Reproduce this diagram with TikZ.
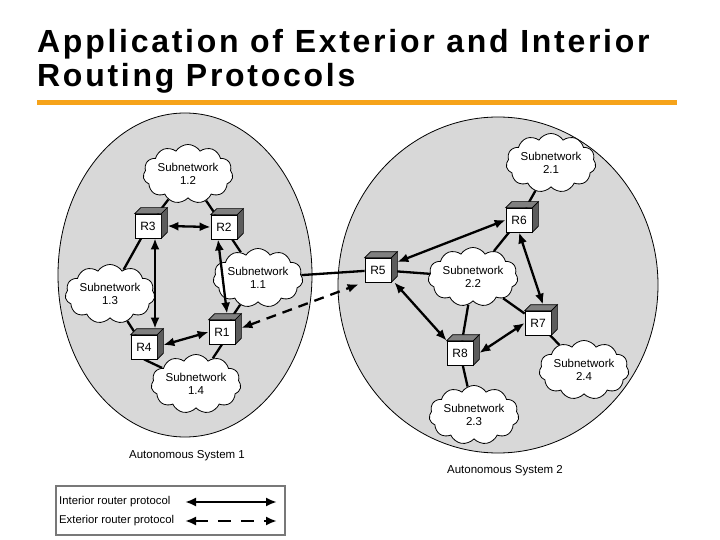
\documentclass[tikz,border=0pt]{standalone}
\usepackage{fontspec}
\setmainfont{Liberation Sans}
\newfontfamily\titlefont{Liberation Sans}[LetterSpace=8.5]
\usetikzlibrary{shapes.symbols,arrows.meta,calc}
\definecolor{asgray}{RGB}{216,216,216}
\definecolor{titleorange}{RGB}{246,163,26}
\definecolor{facetop}{RGB}{128,128,128}
\definecolor{faceside}{RGB}{92,92,92}
\definecolor{legendframe}{RGB}{120,120,120}
\pgfdeclarelayer{back}
\pgfdeclarelayer{lines}
\pgfsetlayers{back,lines,main}
\tikzset{
  asys/.style={draw=black, line width=0.8pt, fill=asgray},
  subnet/.style={cloud, cloud puffs=11, cloud puff arc=115, aspect=1.8, draw=black,
    line width=0.8pt, fill=white, inner sep=0pt, minimum width=82pt, minimum height=44pt,
    align=center, font=\fontsize{11.5}{12.5}\selectfont},
  router/.style={draw=black, line width=0.7pt, fill=white, minimum width=26pt,
    minimum height=24pt, inner sep=0pt, font=\fontsize{12}{12}\selectfont},
  face/.style={draw=black, line width=0.7pt},
  link/.style={line width=2.3pt},
  irp/.style={line width=2.3pt, {Latex[length=11pt,width=9pt]}-{Latex[length=11pt,width=9pt]}},
  erp/.style={irp, dash pattern=on 10pt off 7pt},
  smalltext/.style={font=\fontsize{11.5}{13}\selectfont, inner sep=0pt},
  legendtext/.style={font=\fontsize{11.3}{13}\selectfont, inner sep=0pt},
  titletext/.style={font=\titlefont\bfseries\fontsize{32}{34}\selectfont, inner sep=0pt, anchor=base west},
  legendbox/.style={draw=legendframe, line width=1.3pt, minimum width=229pt, minimum height=49pt, inner sep=0pt},
}
\newcommand\routercube[3]{%
  \node[router] (#1) at (#2) {#3};
  \filldraw[face, fill=facetop] (#1.north west) -- ++(6,-6) -- ([shift={(6,-6)}]#1.north east) -- (#1.north east) -- cycle;
  \filldraw[face, fill=faceside] (#1.north east) -- ++(6,-6) -- ([shift={(6,-6)}]#1.south east) -- (#1.south east) -- cycle;
}
\begin{document}
\begin{tikzpicture}[x=1pt, y=-1pt]
\useasboundingbox (0,0) rectangle (720,540);
% title
\node[titletext] (title1) at (37,53) {Application of Exterior and Interior};
\node[titletext] (title2) at (37,87) {Routing Protocols};
\fill[titleorange] (37,100) rectangle (677,105);

% autonomous systems
\begin{pgfonlayer}{back}
  \filldraw[asys] (185,275) ellipse [x radius=127, y radius=162];
  \filldraw[asys] (498,285) ellipse [x radius=160, y radius=168];
\end{pgfonlayer}
\node[smalltext] (as1) at (187,456) {Autonomous System 1};
\node[smalltext] (as2) at (505,471) {Autonomous System 2};

% subnetworks
\node[subnet] (c12) at (188,174) {Subnetwork\\1.2};
\node[subnet] (c11) at (258,278) {Subnetwork\\1.1};
\node[subnet] (c13) at (110,294) {Subnetwork\\1.3};
\node[subnet] (c14) at (196,384) {Subnetwork\\1.4};
\node[subnet] (c21) at (551,163) {Subnetwork\\2.1};
\node[subnet] (c22) at (473,277) {Subnetwork\\2.2};
\node[subnet] (c24) at (584,370) {Subnetwork\\2.4};
\node[subnet] (c23) at (474,415) {Subnetwork\\2.3};

% routers
\routercube{R3}{148,226}{R3}
\routercube{R2}{224,227}{R2}
\routercube{R1}{222,332}{R1}
\routercube{R4}{144,347}{R4}
\routercube{R5}{378,270}{R5}
\routercube{R6}{519,220}{R6}
\routercube{R7}{538,323}{R7}
\routercube{R8}{460,353}{R8}

% attachment lines
\begin{pgfonlayer}{lines}
  \draw[link] (c12) -- (R3);
  \draw[link] (c12) -- (R2);
  \draw[link] (R3) -- (c13);
  \draw[link] (c13) -- (R4);
  \draw[link] (R2) -- (c11);
  \draw[link] (c11) -- (R1);
  \draw[link] (R4.south) -- (c14);
  \draw[link] (R1.south) -- (c14);
  \draw[link] (c11) -- (R5);
  \draw[link] (R6) -- (c21);
  \draw[link] (R5) -- (c22);
  \draw[link] (R6) -- (c22);
  \draw[link] (c22) -- (R7);
  \draw[link] (c22) -- (R8);
  \draw[link] (R7) -- (c24);
  \draw[link] (R8) -- (c23);
\end{pgfonlayer}

% interior router protocol
\draw[irp] ([xshift=6]R3.east) -- (R2.west);
\draw[irp] ([xshift=7]R3.south) -- ([shift={(11,-6)}]R4.north);
\draw[irp] ([xshift=-6]R2.south) -- ([shift={(5,-6)}]R1.north);
\draw[irp] ([shift={(6,-2)}]R4.east) -- (R1.west);
\draw[irp] ([shift={(6,-8)}]R5.east) -- (R6.west);
\draw[irp] ([xshift=3]R5.south east) -- (R8.north west);
\draw[irp] (R6.south) -- ([shift={(5,-6)}]R7.north);
\draw[irp] ([xshift=6]R8.east) -- (R7.west);

% exterior router protocol
\draw[erp] ([shift={(6,-4)}]R1.east) -- ([shift={(-6,2)}]R5.south west);

% legend
\node[legendbox] (legend) at (170.5,510.5) {};
\node[legendtext, anchor=west] (lg1) at (59,502) {Interior router protocol};
\node[legendtext, anchor=west] (lg2) at (59,521) {Exterior router protocol};
\coordinate (l1a) at (185,502);
\coordinate (l1b) at (277,502);
\coordinate (l2a) at (185,521);
\coordinate (l2b) at (277,521);
\draw[irp] (l1a) -- (l1b);
\draw[irp, dash pattern=on 13pt off 10pt] (l2a) -- (l2b);
\end{tikzpicture}
\end{document}
